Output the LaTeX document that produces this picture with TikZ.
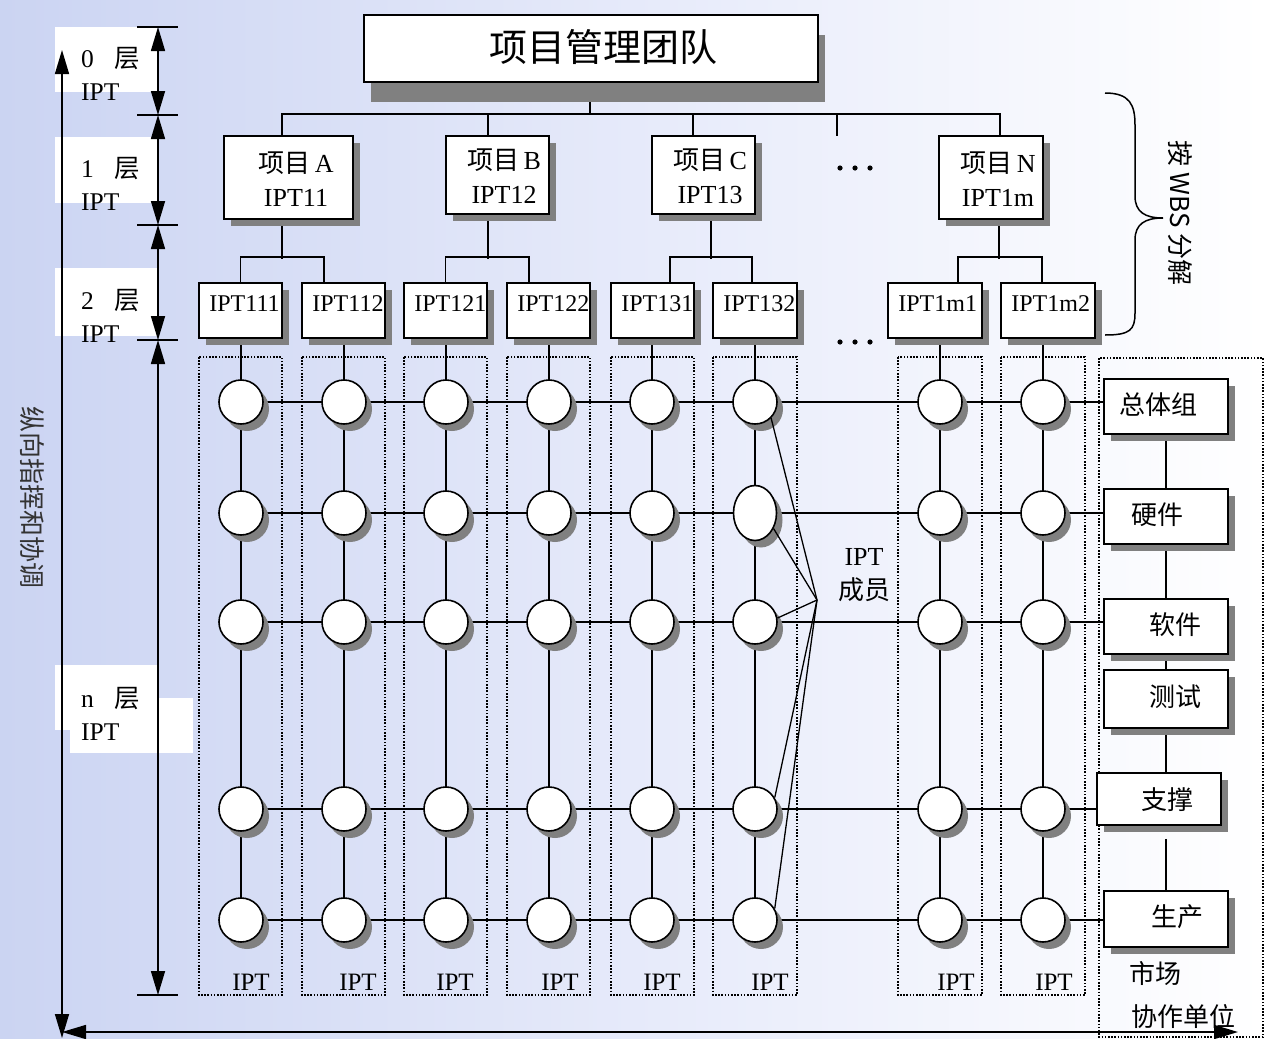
\documentclass[tikz,border=0pt]{standalone}
\usepackage{fontspec}
\setmainfont{Liberation Serif}
\newfontfamily\cjk{Noto Sans CJK SC}
\usetikzlibrary{shadows,arrows.meta,shapes.geometric,calc}
\pgfdeclarelayer{bg}
\pgfdeclarelayer{lines}
\pgfsetlayers{bg,lines,main}
\definecolor{bgl}{RGB}{203,212,242}
\definecolor{bgm}{RGB}{230,234,250}
\definecolor{shd}{RGB}{128,128,128}
\begin{document}
\begin{tikzpicture}[x=1pt,y=-1pt,
  plainbox/.style={draw, fill=white, line width=1.6pt, inner sep=0pt},
  shd7/.style={drop shadow={shadow xshift=7pt, shadow yshift=-7pt, fill=shd, opacity=1}},
  sbox/.style={plainbox, shd7},
  tbox/.style={plainbox, drop shadow={shadow xshift=7pt, shadow yshift=-20pt, fill=shd, opacity=1}},
  mem/.style={circle, draw, fill=white, line width=1.6pt, minimum size=44pt, inner sep=0pt,
    drop shadow={shadow xshift=6pt, shadow yshift=-7pt, fill=shd, opacity=1}},
  memel/.style={mem, ellipse, minimum width=43pt, minimum height=55pt},
  lbl/.style={font=\fontsize{24}{34}\selectfont, inner sep=0pt},
  lbla/.style={font=\fontsize{26}{34}\selectfont, inner sep=0pt},
  lblb/.style={font=\fontsize{25.5}{33}\selectfont, inner sep=0pt, align=left, anchor=west},
  cj/.style={font=\cjk\fontsize{26}{30}\selectfont, inner sep=0pt},
  ln/.style={line width=1.6pt},
  fan/.style={line width=1.3pt},
  grp/.style={draw, line width=1.3pt, dash pattern=on 1.6pt off 1.6pt},
  dimarrow/.style={line width=1.6pt, {Triangle[length=24pt,width=14pt]}-{Triangle[length=24pt,width=14pt]}},
  whitebg/.style={fill=white, draw=none}
]
\useasboundingbox (0,0) rectangle (1264,1039);
\begin{pgfonlayer}{bg}
  \shade[left color=bgl, right color=white, middle color=bgm] (0,0) rectangle (1264,1039);
  \fill[whitebg] (55,27) rectangle (157,92);
  \fill[whitebg] (55,137) rectangle (157,203);
  \fill[whitebg] (55,268) rectangle (157,336);
  \fill[whitebg] (55,665) rectangle (157,730);
  \fill[whitebg] (70,698) rectangle (193,753);
\end{pgfonlayer}

% level 0
\node[tbox, minimum width=454pt, minimum height=67pt] (top) at (591,48.5) {};
\node[cj, font=\cjk\fontsize{38}{40}\selectfont] (toptext) at (603,47) {项目管理团队};

% level 1
\node[sbox, minimum width=129pt, minimum height=83pt] (A) at (288.5,177.5) {};
\node[sbox, minimum width=103pt, minimum height=78pt] (B) at (497.5,175) {};
\node[sbox, minimum width=103pt, minimum height=78pt] (C) at (703.5,175) {};
\node[sbox, minimum width=104pt, minimum height=83pt] (N) at (991,177.5) {};
\node[lbla, align=center] (At) at (296,179) {{\cjk 项目}\,A\\IPT11};
\node[lbla, align=center] (Bt) at (504,176) {{\cjk 项目}\,B\\IPT12};
\node[lbla, align=center] (Ct) at (710,176) {{\cjk 项目}\,C\\IPT13};
\node[lbla, align=center] (Nt) at (998,179) {{\cjk 项目}\,N\\IPT1m};

% level 2
\foreach \n/\x/\w in {111/240.5/83, 112/343.5/83, 121/445.5/83, 122/548.5/83,
                      131/652.5/83, 132/755/84, 1m1/935/94, 1m2/1048/94} {
  \node[sbox, minimum width=\w pt, minimum height=55pt] (b\n) at (\x,310.5) {};
  \node[lbl, anchor=west] (t\n) at ([xshift=11pt,yshift=6.5pt]b\n.west) {IPT\n};
}

% members grid
\foreach \cx [count=\i] in {241,344,446,549,652,755,940,1043} {
  \foreach \ry [count=\j] in {402,513,622,809,920} {
    \ifnum\i\j=62
      \node[memel] (c\i\j) at (\cx,\ry) {};
    \else
      \node[mem] (c\i\j) at (\cx,\ry) {};
    \fi
  }
}

% right functional boxes
\node[sbox, minimum width=124pt, minimum height=55pt] (zt) at (1166,406.5) {};
\node[sbox, minimum width=124pt, minimum height=55pt] (yj) at (1166,516.5) {};
\node[sbox, minimum width=124pt, minimum height=55pt] (rj) at (1166,626.5) {};
\node[sbox, minimum width=124pt, minimum height=58pt] (cs) at (1166,699) {};
\node[sbox, minimum width=124pt, minimum height=52pt] (zc) at (1159,799) {};
\node[sbox, minimum width=124pt, minimum height=56pt] (sc) at (1166,919) {};
\node[cj] (ztt) at (1158,405) {总体组};
\node[cj] (yjt) at (1157,515) {硬件};
\node[cj] (rjt) at (1175,625) {软件};
\node[cj] (cst) at (1175,697) {测试};
\node[cj] (zct) at (1167,800) {支撑};
\node[cj] (sct) at (1177,917) {生产};

\begin{pgfonlayer}{lines}
  % tree connectors
  \draw[ln] (top.south -| 590,0) -- (590,115);
  \draw[ln] ([xshift=-6.5pt]A.north) -- ++(0,-21) -| ([xshift=9pt]N.north);
  \draw[ln] ([xshift=-9.5pt]B.north) -- ++(0,-21);
  \draw[ln] ([xshift=-10.5pt]C.north) -- ++(0,-21);
  \draw[ln] (837,115) -- (837,136);
  \draw[ln] ([xshift=-6.5pt]A.south) -- ++(0,39);
  \draw[ln] ([xshift=-9.5pt]B.south) -- ++(0,44);
  \draw[ln] ([xshift=7.5pt]C.south) -- ++(0,44);
  \draw[ln] ([xshift=8pt]N.south) -- ++(0,39);
  \draw[ln] (b111.north) -- ++(0,-25) -| ([xshift=-19.5pt]b112.north);
  \draw[ln] (b121.north) -- ++(0,-25) -| ([xshift=-19.5pt]b122.north);
  \draw[ln] ([xshift=17.5pt]b131.north) -- ++(0,-25) -| ([xshift=-3pt]b132.north);
  \draw[ln] ([xshift=23pt]b1m1.north) -- ++(0,-25) -| ([xshift=-6pt]b1m2.north);
  % dotted IPT groups
  \foreach \l/\r in {199/282, 302/385, 404/487, 507/590, 611/694, 713/797, 898/982, 1001/1085}
    \draw[grp] (\l,357) rectangle (\r,995);
  \draw[grp] (1099,358) rectangle (1263,1037);
  % grid lines
  \foreach \b [count=\i] in {111,112,121,122,131,132,1m1,1m2}
    \draw[ln] (b\b.south -| c\i1) -- (c\i1.center);
  \foreach \i in {1,...,8} \draw[ln] (c\i1.center) -- (c\i5.center);
  \foreach \j in {1,...,5} \draw[ln] (c1\j.center) -- (c8\j.center);
  \draw[ln] (c81.center) -- (c81 -| zt.west);
  \draw[ln] (c82.center) -- (c82 -| yj.west);
  \draw[ln] (c83.center) -- (c83 -| rj.west);
  \draw[ln] (c84.center) -- (c84 -| zc.west);
  \draw[ln] (c85.center) -- (c85 -| sc.west);
  % functional chain
  \draw[ln] (zt.south) -- (yj.north);
  \draw[ln] (yj.south) -- (rj.north);
  \draw[ln] (rj.south) -- (cs.north);
  \draw[ln] (cs.south) -- (cs.south |- zc.north);
  \draw[ln] ([yshift=-13pt]zc.south -| sc.north) -- (sc.north);
\end{pgfonlayer}

% IPT member fan
\coordinate (F) at (817,600);
\draw[fan] (F) -- (c61.-45);
\draw[fan] (F) -- (c62.-40);
\draw[fan] (F) -- (c63.10);
\draw[fan] (F) -- (c64.30);
\draw[fan] (F) -- (c65.30);
\node[lbla, align=center] (memb) at (864,575) {IPT\\{\cjk 成员}};

% IPT labels under groups
\foreach \x [count=\i] in {251,358,455,560,662,770,956,1054}
  \node[lbl, font=\fontsize{25}{30}\selectfont] (ipt\i) at (\x,982) {IPT};

% ellipsis dots
\foreach \x in {840,855,870} {
  \fill (\x,168) circle (2.6pt);
  \fill (\x,342) circle (2.6pt);
}

% brace and WBS label
\draw[line width=1.5pt] (1105,93) .. controls (1130,93) and (1135,105) .. (1135,125)
  -- (1135,196) .. controls (1135,212) and (1145,218) .. (1163,218)
  .. controls (1145,218) and (1135,224) .. (1135,240)
  -- (1135,313) .. controls (1135,330) and (1130,335) .. (1105,335);
\node[cj, rotate=-90] (wbs) at (1180,213) {按 WBS 分解};

% level dimension arrows
\foreach \a/\b in {27/115, 115/225, 225/340, 340/995}
  \draw[dimarrow] (158,\a) -- (158,\b);
\foreach \y in {27,115,225,340,995}
  \draw[ln] (137,\y) -- (178,\y);

% layer labels
\node[lblb] (L0) at (81,74) {0\hspace{21pt}{\cjk 层}\\IPT};
\node[lblb] (L1) at (81,184) {1\hspace{21pt}{\cjk 层}\\IPT};
\node[lblb] (L2) at (81,316) {2\hspace{21pt}{\cjk 层}\\IPT};
\node[lblb] (Ln) at (81,714) {n\hspace{21pt}{\cjk 层}\\IPT};

% outer axes
\draw[dimarrow] (62,1038) -- (62,50);
\draw[dimarrow] (62,1032) -- (1238,1032);
\node[cj, rotate=-90, text=black!80] (vt) at (32,497) {纵向指挥和协调};

% market partners
\node[cj] (sc1) at (1155,973) {市场};
\node[cj] (sc2) at (1183,1017) {协作单位};
\end{tikzpicture}
\end{document}
